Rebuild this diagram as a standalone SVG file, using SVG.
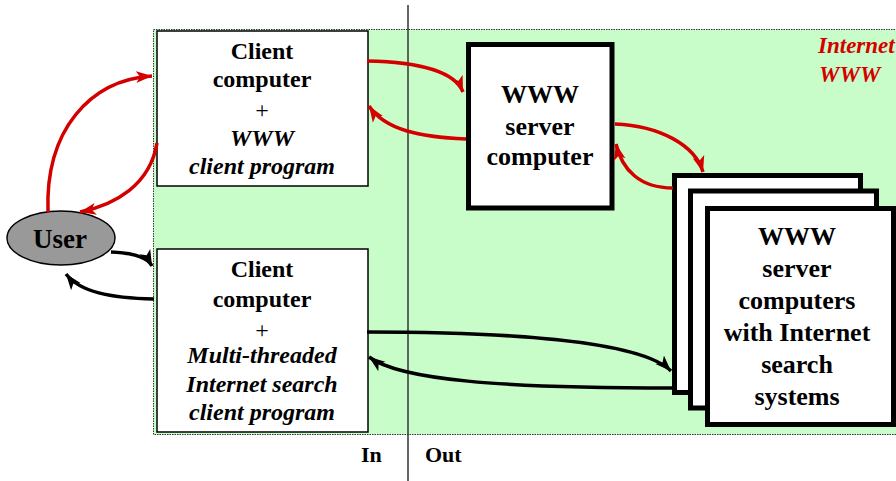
<svg xmlns="http://www.w3.org/2000/svg" width="896" height="481" viewBox="0 0 896 481">
  <style>
    text { font-family: "Liberation Serif", "Times New Roman", serif; font-weight: bold; fill: #000; }
    .c { text-anchor: middle; }
    .it { font-style: italic; }
    .thin { fill: #fff; stroke: #000; stroke-width: 1.5; }
    .thick { fill: #fff; stroke: #000; stroke-width: 5; }
    .red { fill: none; stroke: #d40000; stroke-width: 3.5; marker-end: url(#ahRed); }
    .blk { fill: none; stroke: #000; stroke-width: 3.5; marker-end: url(#ahBlk); }
  </style>
  <defs>
    <marker id="ahRed" markerUnits="userSpaceOnUse" markerWidth="18" markerHeight="14" viewBox="0 0 18 14" refX="16" refY="7" orient="auto">
      <path d="M0,1 L16,7 L0,13 L4,7 z" fill="#d40000"/>
    </marker>
    <marker id="ahBlk" markerUnits="userSpaceOnUse" markerWidth="18" markerHeight="14" viewBox="0 0 18 14" refX="16" refY="7" orient="auto">
      <path d="M0,1 L16,7 L0,13 L4,7 z" fill="#000"/>
    </marker>
  </defs>

  <rect width="896" height="481" fill="#fff"/>

  <!-- Internet / WWW region -->
  <g id="region">
    <rect x="153.5" y="29.5" width="750" height="405" fill="#c8fcc8" stroke="#333" stroke-width="1" stroke-dasharray="1.5 1"/>
    <text x="818" y="53" class="it" font-size="23" style="fill:#d40000">Internet</text>
    <text x="819" y="82" class="it" font-size="23" style="fill:#d40000">WWW</text>
  </g>

  <!-- In / Out divider -->
  <g id="divider">
    <line x1="408" y1="5" x2="408" y2="481" stroke="#333" stroke-width="1.5"/>
    <text x="361" y="462" font-size="22">In</text>
    <text x="425" y="462" font-size="22">Out</text>
  </g>

  <g id="user">
    <ellipse cx="61" cy="238" rx="54" ry="27" fill="#999" stroke="#000" stroke-width="1.5"/>
    <text x="60" y="248" class="c" font-size="27">User</text>
  </g>

  <g id="client-www">
    <rect x="157" y="31" width="211" height="155" class="thin"/>
    <text x="262" y="59" class="c" font-size="24">Client</text>
    <text x="262" y="87" class="c" font-size="24">computer</text>
    <text x="262" y="118" class="c" font-size="24" style="font-weight:normal">+</text>
    <text x="262" y="146" class="c it" font-size="24">WWW</text>
    <text x="262" y="174" class="c it" font-size="24">client program</text>
  </g>

  <g id="client-search">
    <rect x="157" y="249" width="211" height="183" class="thin"/>
    <text x="262" y="277" class="c" font-size="24">Client</text>
    <text x="262" y="307" class="c" font-size="24">computer</text>
    <text x="262" y="338" class="c" font-size="24" style="font-weight:normal">+</text>
    <text x="262" y="363" class="c it" font-size="24">Multi-threaded</text>
    <text x="262" y="392" class="c it" font-size="24">Internet search</text>
    <text x="262" y="420" class="c it" font-size="24">client program</text>
  </g>

  <g id="www-server">
    <rect x="468.5" y="44.5" width="143.5" height="163.5" class="thick"/>
    <text x="540" y="103" class="c" font-size="26">WWW</text>
    <text x="540" y="135" class="c" font-size="26">server</text>
    <text x="540" y="165" class="c" font-size="26">computer</text>
  </g>

  <g id="search-servers">
    <rect x="674.5" y="175.5" width="186" height="217" class="thick"/>
    <rect x="690.5" y="191" width="186" height="217" class="thick"/>
    <rect x="707.5" y="208.5" width="186" height="216" class="thick"/>
    <text x="797" y="245" class="c" font-size="26">WWW</text>
    <text x="797" y="277" class="c" font-size="26">server</text>
    <text x="797" y="309" class="c" font-size="26">computers</text>
    <text x="797" y="341" class="c" font-size="26">with Internet</text>
    <text x="797" y="373" class="c" font-size="26">search</text>
    <text x="797" y="405" class="c" font-size="26">systems</text>
  </g>

  <g id="connectors">
    <path class="red" d="M48,212 C45,130 90,80 152,76"/>
    <path class="red" d="M157,143 C150,185 115,205 80,212"/>
    <path class="red" d="M367,61 C420,62 455,72 463,92"/>
    <path class="red" d="M466,139 C420,137 385,130 369,106"/>
    <path class="red" d="M615,124 C660,126 695,145 703,172"/>
    <path class="red" d="M673,188 C640,188 622,170 616,144"/>
    <path class="blk" d="M111,252 C135,253 148,258 152,266"/>
    <path class="blk" d="M154,299 C110,298 80,292 66,274"/>
    <path class="blk" d="M367,332 C500,332 640,340 671,371"/>
    <path class="blk" d="M673,388 C500,388 400,380 369,357"/>
  </g>
</svg>
